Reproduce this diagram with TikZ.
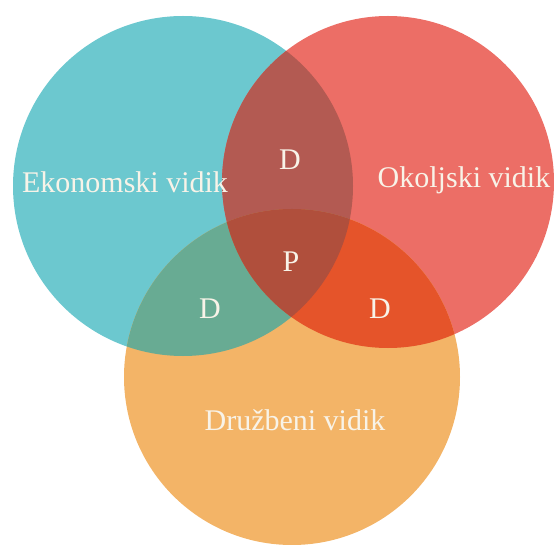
\documentclass[tikz,border=0pt]{standalone}
\usepackage{fontspec}
\setmainfont{Liberation Serif}
\definecolor{cTeal}{HTML}{6CC8CF}
\definecolor{cRed}{HTML}{EC6E66}
\definecolor{cOrange}{HTML}{F3B467}
\definecolor{cTR}{HTML}{B35A52}
\definecolor{cTO}{HTML}{68AB93}
\definecolor{cRO}{HTML}{E5542A}
\definecolor{cAll}{HTML}{B04F3C}
\definecolor{cText}{HTML}{F8F3E8}
\begin{document}
\begin{tikzpicture}[x=1pt,y=-1pt,
  lbl/.style={text=cText,font=\fontsize{30}{30}\selectfont,inner sep=0pt}]
\useasboundingbox (0,0) rectangle (554,545);
\coordinate (T) at (183,186);
\coordinate (R) at (388,182);
\coordinate (O) at (292,377);
\def\rT{170}\def\rR{166}\def\rO{168}
% base circles
\fill[cTeal] (T) circle[radius=\rT];
\fill[cRed] (R) circle[radius=\rR];
\fill[cOrange] (O) circle[radius=\rO];
% pairwise overlaps
\begin{scope}
  \clip (T) circle[radius=\rT];
  \fill[cTR] (R) circle[radius=\rR];
  \fill[cTO] (O) circle[radius=\rO];
\end{scope}
\begin{scope}
  \clip (R) circle[radius=\rR];
  \fill[cRO] (O) circle[radius=\rO];
\end{scope}
\begin{scope}
  \clip (T) circle[radius=\rT];
  \clip (R) circle[radius=\rR];
  \fill[cAll] (O) circle[radius=\rO];
\end{scope}
% labels
\node[lbl] (eko) at (125,182) {Ekonomski vidik};
\node[lbl] (oko) at (464,180) {Okoljski vidik};
\node[lbl] (dru) at (295,420) {Družbeni vidik};
\node[lbl] (dtop) at (290,160) {D};
\node[lbl] (p) at (291,262) {P};
\node[lbl] (dleft) at (210,309) {D};
\node[lbl] (dright) at (380,309) {D};
\end{tikzpicture}
\end{document}
